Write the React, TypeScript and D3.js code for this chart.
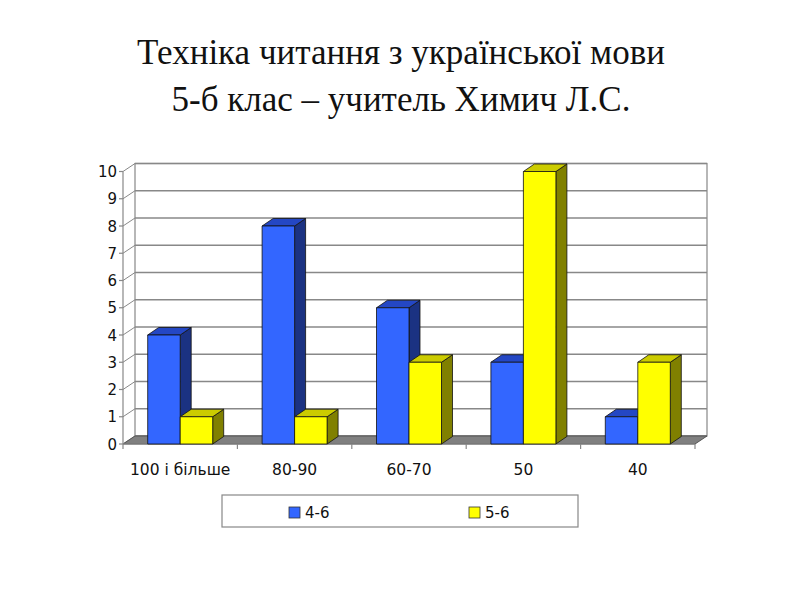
import React from "react";
import * as d3 from "d3";

const categories = ["100 і більше", "80-90", "60-70", "50", "40"];
const series46 = [4, 8, 5, 3, 1];
const series56 = [1, 1, 3, 10, 3];
const seriesNames = ["4-6", "5-6"];
const yTicks = [0, 1, 2, 3, 4, 5, 6, 7, 8, 9, 10];
const titleLines = ["Техніка читання з української мови", "5-б клас – учитель Химич Л.С."];

const palettes = [
  { front: "#3366FF", top: "#2447C4", side: "#1B3282" },
  { front: "#FFFF00", top: "#CCCC00", side: "#808000" },
];

export default function App() {
  const W = 800, H = 600;
  const x0 = 123, x1 = 695, yBase = 444, yTop = 171.5;
  const DX = 12, DY = -8; // wall depth
  const BDX = 11, BDY = -7.5; // bar depth

  const x = d3.scaleBand<string>().domain(categories).range([x0, x1]).paddingInner(0).paddingOuter(0);
  const y = d3.scaleLinear().domain([0, 10]).range([yBase, yTop]);
  const bw = x.bandwidth();
  const barW = 32.5;
  const groupW = barW * 2;

  const allSeries = [series46, series56];

  const bars: React.ReactNode[] = [];
  categories.forEach((c, i) => {
    const gx = (x(c) as number) + bw / 2 - groupW / 2;
    allSeries.forEach((s, si) => {
      const v = s[i];
      const bx = gx + si * barW;
      const by = y(v);
      const p = palettes[si];
      const front = `M${bx},${yBase}L${bx},${by}L${bx + barW},${by}L${bx + barW},${yBase}Z`;
      const top = `M${bx},${by}L${bx + BDX},${by + BDY}L${bx + barW + BDX},${by + BDY}L${bx + barW},${by}Z`;
      const side = `M${bx + barW},${by}L${bx + barW + BDX},${by + BDY}L${bx + barW + BDX},${yBase + BDY}L${bx + barW},${yBase}Z`;
      bars.push(
        <g key={`b${i}-${si}`} stroke="#111" strokeWidth={0.8} strokeLinejoin="round">
          <path d={side} fill={p.side} />
          <path d={top} fill={p.top} />
          <path d={front} fill={p.front} />
        </g>
      );
    });
  });

  const font = "'DejaVu Sans', Verdana, sans-serif";

  return (
    <svg width={W} height={H} viewBox={`0 0 ${W} ${H}`} style={{ position: "absolute", left: 0, top: 0, background: "#fff" }}>
      <rect x={0} y={0} width={W} height={H} fill="#fff" />
      {titleLines.map((t, i) => (
        <text key={t} x={401} y={64 + i * 47} textAnchor="middle" fontFamily="'Liberation Serif', 'Times New Roman', serif" fontSize={35} fill="#111">
          {t}
        </text>
      ))}
      {/* back wall */}
      <rect x={x0 + DX} y={yTop + DY} width={x1 - x0} height={yBase - yTop} fill="#fff" stroke="#888" strokeWidth={1.2} />
      {/* back wall gridlines */}
      {yTicks.map((t) => (
        <line key={`g${t}`} x1={x0 + DX} x2={x1 + DX} y1={y(t) + DY} y2={y(t) + DY} stroke="#888" strokeWidth={1.3} />
      ))}
      {/* left wall gridlines */}
      {yTicks.map((t) => (
        <line key={`lg${t}`} x1={x0} x2={x0 + DX} y1={y(t)} y2={y(t) + DY} stroke="#888" strokeWidth={1} />
      ))}
      {/* floor */}
      <path d={`M${x0},${yBase}L${x0 + DX},${yBase + DY}L${x1 + DX},${yBase + DY}L${x1},${yBase}Z`} fill="#808080" stroke="#555" strokeWidth={1} />
      {/* y axis */}
      <line x1={x0} x2={x0} y1={yTop} y2={yBase} stroke="#888" strokeWidth={1.2} />
      {yTicks.map((t) => (
        <g key={`yt${t}`}>
          <line x1={x0 - 4} x2={x0} y1={y(t)} y2={y(t)} stroke="#888" strokeWidth={1.2} />
          <text x={x0 - 6} y={y(t) + 5.5} textAnchor="end" fontFamily={font} fontSize={15} fill="#111">{t}</text>
        </g>
      ))}
      {/* x axis */}
      <line x1={x0} x2={x1} y1={yBase} y2={yBase} stroke="#888" strokeWidth={1.2} />
      {[...categories.map((c) => x(c) as number), x1].map((bx, i) => (
        <line key={`xt${i}`} x1={bx} x2={bx} y1={yBase} y2={yBase + 5} stroke="#888" strokeWidth={1.2} />
      ))}
      {bars}
      {categories.map((c) => (
        <text key={`xl${c}`} x={(x(c) as number) + bw / 2} y={475} textAnchor="middle" fontFamily={font} fontSize={15.5} fill="#111">{c}</text>
      ))}
      {/* legend */}
      <rect x={222} y={495} width={356} height={32} fill="#fff" stroke="#888" strokeWidth={1.2} />
      {seriesNames.map((n, i) => (
        <g key={n}>
          <rect x={289 + i * 180} y={507} width={11} height={11} fill={palettes[i].front} stroke="#333" strokeWidth={0.8} />
          <text x={305 + i * 180} y={518} fontFamily={font} fontSize={15} fill="#111">{n}</text>
        </g>
      ))}
    </svg>
  );
}
